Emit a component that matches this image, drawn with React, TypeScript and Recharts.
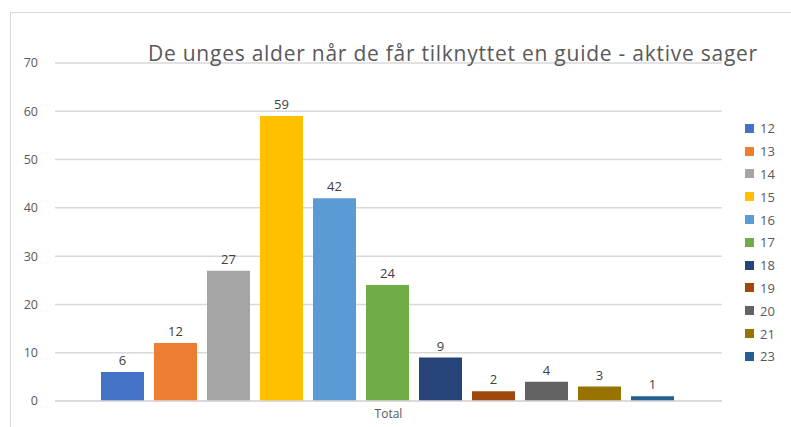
import { BarChart, Bar, XAxis, YAxis, CartesianGrid, LabelList } from 'recharts';

const ages = ['12', '13', '14', '15', '16', '17', '18', '19', '20', '21', '23'];
const counts = [6, 12, 27, 59, 42, 24, 9, 2, 4, 3, 1];
const colors = [
  '#4472C4', '#ED7D31', '#A5A5A5', '#FFC000', '#5B9BD5', '#70AD47',
  '#264478', '#9E480E', '#636363', '#997300', '#255E91',
];
const yTicks = [0, 10, 20, 30, 40, 50, 60, 70];
const category = 'Total';
const title = 'De unges alder når de får tilknyttet en guide - aktive sager';

const FONT = '"Open Sans", "Noto Sans", sans-serif';

export default function App() {
  // en rad med en kolonne per alder
  const row: Record<string, string | number> = { name: category };
  ages.forEach((a, i) => {
    row['a' + a] = counts[i];
  });
  const data = [row];

  return (
    <div
      style={{
        position: 'fixed', left: 0, top: 0, width: 791, height: 427,
        background: '#fff', overflow: 'hidden', fontFamily: FONT,
      }}
    >
      <div
        style={{
          position: 'absolute', left: 10, top: 12, width: 800, height: 430,
          border: '1px solid #d9d9d9',
        }}
      />
      <div style={{ position: 'absolute', left: 0, top: 0 }}>
        <BarChart
          width={791}
          height={427}
          data={data}
          margin={{ top: 63, right: 69, bottom: 0, left: 0 }}
          barCategoryGap={46}
          barGap={10}
        >
          <CartesianGrid vertical={false} stroke="#d9d9d9" strokeWidth={1.5} />
          <XAxis
            dataKey="name"
            height={26}
            tickLine={false}
            axisLine={{ stroke: '#d9d9d9', strokeWidth: 1.5 }}
            tick={{ fill: '#595959', fontSize: 12, fontFamily: FONT }}
          />
          <YAxis
            width={55}
            domain={[0, 70]}
            ticks={yTicks}
            tickLine={false}
            axisLine={false}
            tickMargin={11}
            tick={{ fill: '#595959', fontSize: 12.5, fontFamily: FONT }}
          />
          {ages.map((a, i) => (
            <Bar key={a} dataKey={'a' + a} name={a} fill={colors[i]} isAnimationActive={false}>
              <LabelList
                dataKey={'a' + a}
                position="top"
                offset={7}
                fill="#404040"
                fontSize={13}
                fontFamily={FONT}
              />
            </Bar>
          ))}
        </BarChart>
      </div>
      <div
        style={{
          position: 'absolute', left: 148, top: 39, width: 640,
          fontSize: 21, letterSpacing: 0.75, color: '#595959', whiteSpace: 'nowrap',
        }}
      >
        {title}
      </div>
      <div style={{ position: 'absolute', left: 745, top: 117 }}>
        {ages.map((a, i) => (
          <div key={a} style={{ display: 'flex', alignItems: 'center', height: 22.8 }}>
            <span style={{ width: 9, height: 9, background: colors[i], marginRight: 6 }} />
            <span style={{ fontSize: 13, color: '#595959' }}>{a}</span>
          </div>
        ))}
      </div>
    </div>
  );
}
